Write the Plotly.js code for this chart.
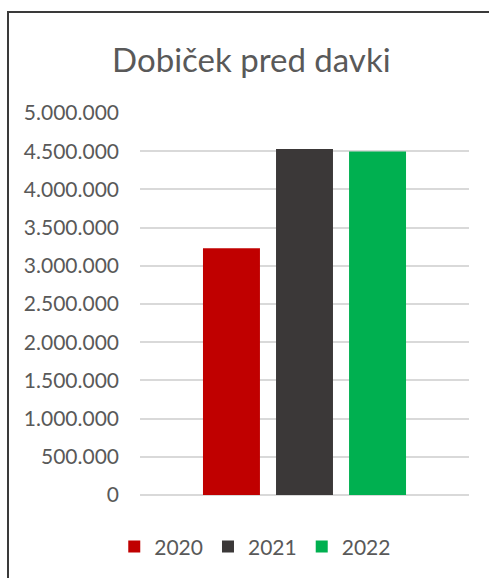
<!DOCTYPE html>
<html>
<head>
<meta charset="utf-8">
<script src="https://cdn.plot.ly/plotly-3.0.1.min.js"></script>
<style>
  body { margin: 0; background: #fff; }
  #chart { width: 489px; height: 578px; }
  #frame {
    position: absolute; left: 7px; top: 11px; width: 500px; height: 600px;
    border-left: 2px solid #3a3a3a; border-top: 2px solid #3a3a3a;
    pointer-events: none;
  }
</style>
</head>
<body>
<div id="chart"></div>
<div id="frame"></div>
<script>
// Dobiček pred davki po letih (EUR)
var category = ["Dobiček pred davki"]
var years = ["2020", "2021", "2022"]
var profit = [3230000, 4530000, 4495000]
var colors = ["#c00000", "#3b3838", "#00b050"]

var tickVals = [0, 500000, 1000000, 1500000, 2000000, 2500000, 3000000, 3500000, 4000000, 4500000, 5000000]
var tickText = ["0", "500.000", "1.000.000", "1.500.000", "2.000.000", "2.500.000", "3.000.000", "3.500.000", "4.000.000", "4.500.000", "5.000.000"]

var traces = years.map(function (y, i) {
  return {
    x: category,
    y: [profit[i]],
    type: "bar",
    name: y,
    marker: { color: colors[i] },
    hoverinfo: "name+y"
  }
})

var layout = {
  width: 489,
  height: 578,
  margin: { l: 140, r: 20, t: 113, b: 83 },
  paper_bgcolor: "#fff",
  plot_bgcolor: "#fff",
  font: { family: "Lato, 'Open Sans', sans-serif", color: "#595959" },
  title: {
    text: "Dobiček pred davki",
    font: { size: 33, color: "#595959" },
    xref: "container", x: 0.514, xanchor: "center",
    yref: "container", y: 0.895, yanchor: "middle"
  },
  barmode: "group",
  bargap: 0.334,
  bargroupgap: 0.22,
  xaxis: { showticklabels: false, showgrid: false, zeroline: false, showline: false },
  yaxis: {
    range: [0, 5000000],
    tickvals: tickVals,
    ticktext: tickText,
    tickfont: { size: 21, color: "#595959" },
    ticklabelstandoff: 20,
    gridcolor: "#d9d9d9",
    gridwidth: 1.5,
    zeroline: true,
    zerolinecolor: "#d9d9d9",
    zerolinewidth: 1.5
  },
  showlegend: true,
  legend: {
    orientation: "h",
    xref: "container", x: 0.522, xanchor: "center",
    yref: "container", y: 0.054, yanchor: "middle",
    font: { size: 21, color: "#595959" },
    itemwidth: 30
  }
}

Plotly.newPlot("chart", traces, layout, { displayModeBar: false })
</script>
</body>
</html>
